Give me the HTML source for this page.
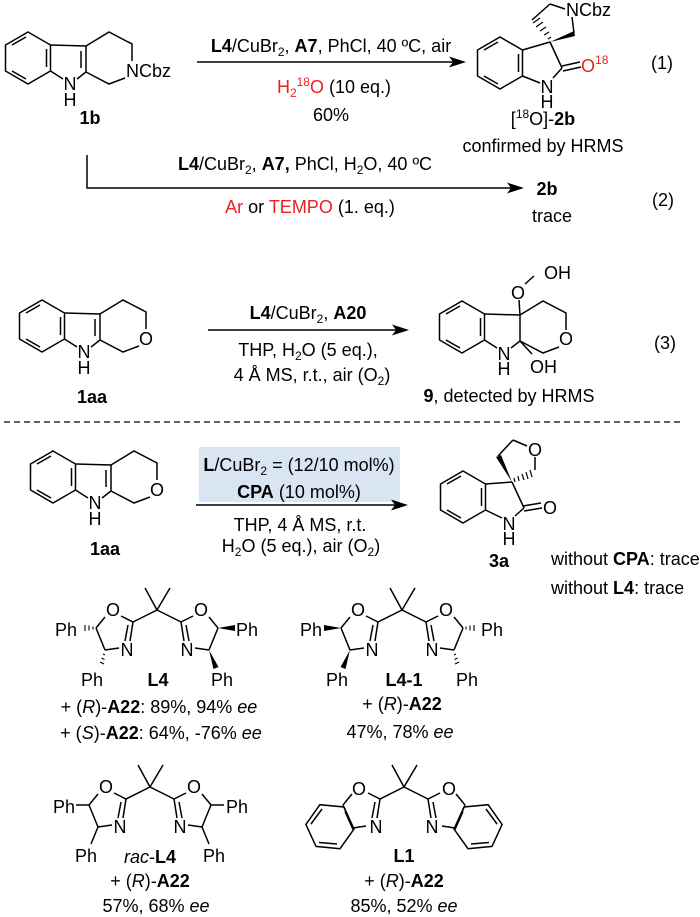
<!DOCTYPE html>
<html><head><meta charset="utf-8"><style>
html,body{margin:0;padding:0;background:#fff}
svg{display:block}
text{font-family:"Liberation Sans",Arial,sans-serif;font-size:18px;fill:#000}
.b{font-weight:bold}
.r{fill:#e8231f}
.m{text-anchor:middle}
.e{text-anchor:end}
</style></head><body>
<svg width="700" height="917" viewBox="0 0 700 917" xmlns="http://www.w3.org/2000/svg">
<defs>
<g id="benz">
<polygon points="0,-26 22.5,-13 22.5,13 0,26 -22.5,13 -22.5,-13" fill="none" stroke="#000" stroke-width="1.5"/>
<line x1="18.5" y1="-9" x2="18.5" y2="9" stroke="#000" stroke-width="1.5"/>
<line x1="-2" y1="21" x2="-16" y2="13" stroke="#000" stroke-width="1.5"/>
<line x1="-16" y1="-13" x2="-2" y2="-21" stroke="#000" stroke-width="1.5"/>
</g>
<g id="ind" fill="none" stroke="#000" stroke-width="1.5">
<use href="#benz"/>
<polyline points="22.5,-13 58,-12 58,14 49,21"/>
<line x1="22.5" y1="13" x2="35" y2="21"/>
<line x1="53" y1="-7" x2="53" y2="10"/>
<polyline points="58,-12 81,-26 104,-14 104,3"/>
<polyline points="97,20 81,26 58,14"/>
</g>
<g id="box" fill="none" stroke="#000" stroke-width="1.5">
<line x1="0" y1="0" x2="-12" y2="-22"/>
<line x1="0" y1="0" x2="13" y2="-22"/>
<line x1="0" y1="0" x2="-24" y2="12"/>
<line x1="-24" y1="12" x2="-36" y2="6"/>
<line x1="-52" y1="7" x2="-61" y2="18"/>
<line x1="-24" y1="12" x2="-27" y2="31"/>
<line x1="-29" y1="15" x2="-32" y2="31"/>
<line x1="0" y1="0" x2="24" y2="12"/>
<line x1="24" y1="12" x2="36" y2="6"/>
<line x1="52" y1="7" x2="61" y2="18"/>
<line x1="24" y1="12" x2="27" y2="31"/>
<line x1="29" y1="15" x2="32" y2="31"/>
</g>
<g id="oxr" fill="none" stroke="#000" stroke-width="1.5">
<line x1="-61" y1="18" x2="-52" y2="40"/>
<line x1="-52" y1="40" x2="-38" y2="38"/>
</g>
</defs>

<!-- Reaction 1 -->
<use href="#ind" transform="translate(28,58)"/>
<text x="70" y="90" class="m">N</text>
<text x="70" y="106" class="m">H</text>
<text x="126" y="77">NCbz</text>
<text x="90" y="124" class="m b">1b</text>

<line x1="197" y1="62" x2="455" y2="62" stroke="#000" stroke-width="1.5"/>
<polygon points="466,62 449,56.5 453,62 449,67.5"/>
<text x="331" y="52" class="m"><tspan class="b">L4</tspan>/CuBr<tspan font-size="12" dy="4">2</tspan><tspan dy="-4">, </tspan><tspan class="b">A7</tspan>, PhCl, 40 ºC, air</text>
<text x="334" y="93" class="m"><tspan class="r">H</tspan><tspan class="r" font-size="12" dy="4">2</tspan><tspan class="r" font-size="12" dy="-11">18</tspan><tspan class="r" dy="7">O</tspan> (10 eq.)</text>
<text x="331" y="121" class="m">60%</text>

<!-- product 2b -->
<g fill="none" stroke="#000" stroke-width="1.5">
<polygon points="500,37 522.5,50 522.5,76 500,89 477.5,76 477.5,50"/>
<line x1="518.5" y1="54" x2="518.5" y2="72"/>
<line x1="498" y1="84" x2="484" y2="76"/>
<line x1="484" y1="50" x2="498" y2="42"/>
<line x1="522.5" y1="50" x2="550" y2="42"/>
<line x1="550" y1="42" x2="562" y2="68"/>
<line x1="562" y1="68" x2="553" y2="78"/>
<line x1="522.5" y1="76" x2="540" y2="83"/>
<line x1="562" y1="66" x2="580" y2="62"/>
<line x1="563" y1="71" x2="581" y2="67"/>
<line x1="532" y1="20" x2="550" y2="4"/>
<line x1="550" y1="4" x2="565" y2="9"/>
<line x1="572" y1="17" x2="574" y2="33"/>
</g>
<g stroke="#000" stroke-width="1.2">
<line x1="548" y1="39" x2="551" y2="37"/><line x1="544" y1="35" x2="549" y2="32"/><line x1="540" y1="31" x2="546" y2="27"/><line x1="536" y1="27" x2="543" y2="22"/><line x1="533" y1="23" x2="540" y2="18"/>
</g>
<polygon points="550,42 574,31 575,36"/>
<text x="566" y="16">NCbz</text>
<text x="581" y="72" class="r">O<tspan font-size="12" dy="-8">18</tspan></text>
<text x="547" y="93" class="m">N</text>
<text x="547" y="108" class="m">H</text>
<text x="662" y="69" class="m">(1)</text>
<text x="543" y="125" class="m">[<tspan font-size="12" dy="-7">18</tspan><tspan dy="7">O]-</tspan><tspan class="b">2b</tspan></text>
<text x="543" y="152" class="m">confirmed by HRMS</text>

<!-- Reaction 2 -->
<polyline points="87,155 87,188 512,188" fill="none" stroke="#000" stroke-width="1.5"/>
<polygon points="524,188 507,182.5 511,188 507,193.5"/>
<text x="305" y="170" class="m"><tspan class="b">L4</tspan>/CuBr<tspan font-size="12" dy="4">2</tspan><tspan dy="-4">, </tspan><tspan class="b">A7,</tspan> PhCl, H<tspan font-size="12" dy="4">2</tspan><tspan dy="-4">O, 40 ºC</tspan></text>
<text x="310" y="213" class="m"><tspan class="r">Ar</tspan> or <tspan class="r">TEMPO</tspan> (1. eq.)</text>
<text x="547" y="195" class="m b">2b</text>
<text x="552" y="222" class="m">trace</text>
<text x="663" y="206" class="m">(2)</text>

<!-- Reaction 3 -->
<use href="#ind" transform="translate(42,326)"/>
<text x="84" y="358" class="m">N</text>
<text x="84" y="374" class="m">H</text>
<text x="146" y="345" class="m">O</text>
<text x="92" y="403" class="m b">1aa</text>
<line x1="208" y1="330" x2="397" y2="330" stroke="#000" stroke-width="1.5"/>
<polygon points="409,330 392,324.5 396,330 392,335.5"/>
<text x="308" y="319" class="m"><tspan class="b">L4</tspan>/CuBr<tspan font-size="12" dy="4">2</tspan><tspan dy="-4">, </tspan><tspan class="b">A20</tspan></text>
<text x="308" y="356" class="m">THP, H<tspan font-size="12" dy="4">2</tspan><tspan dy="-4">O (5 eq.),</tspan></text>
<text x="312" y="381" class="m">4 Å MS, r.t., air (O<tspan font-size="12" dy="4">2</tspan><tspan dy="-4">)</tspan></text>

<g transform="translate(462,327)" fill="none" stroke="#000" stroke-width="1.5">
<use href="#benz"/>
<polyline points="22.5,-13 58,-12 58,14 49,21"/>
<line x1="22.5" y1="13" x2="35" y2="21"/>
<polyline points="58,-12 81,-26 104,-14 104,3"/>
<polyline points="97,20 81,26 58,14"/>
<line x1="58" y1="-12" x2="57" y2="-27"/>
<line x1="63" y1="-43" x2="72" y2="-51"/>
<line x1="58" y1="14" x2="70" y2="27"/>
</g>
<text x="518" y="299" class="m">O</text>
<text x="544" y="279">OH</text>
<text x="504" y="360" class="m">N</text>
<text x="504" y="375" class="m">H</text>
<text x="530" y="373">OH</text>
<text x="566" y="345" class="m">O</text>
<text x="665" y="349" class="m">(3)</text>
<text x="509" y="402" class="m"><tspan class="b">9</tspan>, detected by HRMS</text>

<line x1="4" y1="422" x2="682" y2="422" stroke="#000" stroke-width="1.3" stroke-dasharray="6,4"/>

<!-- Reaction 4 -->
<use href="#ind" transform="translate(53,477)"/>
<text x="95" y="509" class="m">N</text>
<text x="95" y="525" class="m">H</text>
<text x="157" y="496" class="m">O</text>
<text x="105" y="555" class="m b">1aa</text>
<rect x="199" y="447" width="201" height="55" fill="#dae5f3"/>
<text x="299" y="471" class="m"><tspan class="b">L</tspan>/CuBr<tspan font-size="12" dy="4">2</tspan><tspan dy="-4"> = (12/10 mol%)</tspan></text>
<text x="299" y="498" class="m"><tspan class="b">CPA</tspan> (10 mol%)</text>
<line x1="196" y1="505" x2="396" y2="505" stroke="#000" stroke-width="1.5"/>
<polygon points="408,505 391,499.5 395,505 391,510.5"/>
<text x="300" y="531" class="m">THP, 4 Å MS,  r.t.</text>
<text x="301" y="552" class="m">H<tspan font-size="12" dy="4">2</tspan><tspan dy="-4">O (5 eq.), air (O</tspan><tspan font-size="12" dy="4">2</tspan><tspan dy="-4">)</tspan></text>

<g fill="none" stroke="#000" stroke-width="1.5">
<use href="#benz" transform="translate(463,497)"/>
<line x1="485.5" y1="484" x2="512" y2="482"/>
<line x1="512" y1="482" x2="524" y2="508"/>
<line x1="524" y1="508" x2="515" y2="516"/>
<line x1="485.5" y1="510" x2="502" y2="518"/>
<line x1="523" y1="506" x2="541" y2="503"/>
<line x1="524" y1="511" x2="542" y2="508"/>
<line x1="498" y1="456" x2="513" y2="440"/>
<line x1="513" y1="440" x2="527" y2="446"/>
<line x1="535" y1="457" x2="535" y2="470"/>
</g>
<polygon points="512,482 496,457 501,455"/>
<g stroke="#000" stroke-width="1.2">
<line x1="514" y1="478" x2="515" y2="482"/><line x1="518" y1="476" x2="519" y2="481"/><line x1="522" y1="474" x2="524" y2="480"/><line x1="526" y1="472" x2="528" y2="479"/><line x1="530" y1="470" x2="532" y2="477"/>
</g>
<text x="535" y="456" class="m">O</text>
<text x="550" y="514" class="m">O</text>
<text x="509" y="530" class="m">N</text>
<text x="509" y="545" class="m">H</text>
<text x="499" y="567" class="m b">3a</text>
<text x="551" y="565">without <tspan class="b">CPA</tspan>: trace</text>
<text x="551" y="594">without <tspan class="b">L4</tspan>: trace</text>

<!-- L4 -->
<g transform="translate(157,610)">
<use href="#box"/><use href="#oxr"/><use href="#oxr" transform="scale(-1,1)"/>
<g stroke="#000" stroke-width="1.1"><line x1="-64" y1="16.5" x2="-64" y2="19.5"/><line x1="-68" y1="15.5" x2="-68" y2="20.5"/><line x1="-72" y1="15" x2="-72" y2="21"/>
<line x1="-54" y1="44" x2="-52" y2="45"/><line x1="-55.5" y1="48" x2="-52.5" y2="49.5"/><line x1="-57" y1="52" x2="-53" y2="54"/></g>
<polygon points="61,18 78,15 78,21"/><polygon points="52,40 61.5,57 56.5,59"/>
</g>
<text x="77" y="636" class="e">Ph</text>
<text x="92" y="686" class="m">Ph</text>
<text x="113" y="616" class="m">O</text>
<text x="201" y="616" class="m">O</text>
<text x="127" y="656" class="m">N</text>
<text x="187" y="656" class="m">N</text>
<text x="236" y="636">Ph</text>
<text x="222" y="686" class="m">Ph</text>
<text x="158" y="686" class="m b">L4</text>
<text x="159" y="713" class="m">+ (<tspan font-style="italic">R</tspan>)-<tspan class="b">A22</tspan>: 89%, 94% <tspan font-style="italic">ee</tspan></text>
<text x="161" y="739" class="m">+ (<tspan font-style="italic">S</tspan>)-<tspan class="b">A22</tspan>: 64%, -76% <tspan font-style="italic">ee</tspan></text>

<!-- L4-1 -->
<g transform="translate(402,610)">
<use href="#box"/><use href="#oxr"/><use href="#oxr" transform="scale(-1,1)"/>
<polygon points="-61,18 -78,15 -78,21"/><polygon points="-52,40 -61.5,57 -56.5,59"/>
<g stroke="#000" stroke-width="1.1"><line x1="64" y1="16.5" x2="64" y2="19.5"/><line x1="68" y1="15.5" x2="68" y2="20.5"/><line x1="72" y1="15" x2="72" y2="21"/>
<line x1="54" y1="44" x2="52" y2="45"/><line x1="55.5" y1="48" x2="52.5" y2="49.5"/><line x1="57" y1="52" x2="53" y2="54"/></g>
</g>
<text x="322" y="636" class="e">Ph</text>
<text x="337" y="686" class="m">Ph</text>
<text x="358" y="616" class="m">O</text>
<text x="446" y="616" class="m">O</text>
<text x="372" y="656" class="m">N</text>
<text x="432" y="656" class="m">N</text>
<text x="481" y="636">Ph</text>
<text x="467" y="686" class="m">Ph</text>
<text x="404" y="686" class="m b">L4-1</text>
<text x="402" y="710" class="m">+ (<tspan font-style="italic">R</tspan>)-<tspan class="b">A22</tspan></text>
<text x="400" y="738" class="m">47%, 78% <tspan font-style="italic">ee</tspan></text>

<!-- rac-L4 -->
<g transform="translate(150,787)">
<use href="#box"/><use href="#oxr"/><use href="#oxr" transform="scale(-1,1)"/>
<g stroke="#000" stroke-width="1.5"><line x1="-61" y1="18" x2="-74" y2="18"/><line x1="-52" y1="40" x2="-59" y2="57"/><line x1="61" y1="18" x2="74" y2="18"/><line x1="52" y1="40" x2="59" y2="57"/></g>
</g>
<text x="75" y="813" class="e">Ph</text>
<text x="86" y="862" class="m">Ph</text>
<text x="106" y="793" class="m">O</text>
<text x="194" y="793" class="m">O</text>
<text x="120" y="833" class="m">N</text>
<text x="180" y="833" class="m">N</text>
<text x="226" y="813">Ph</text>
<text x="214" y="862" class="m">Ph</text>
<text x="150" y="863" class="m"><tspan font-style="italic">rac</tspan>-<tspan class="b">L4</tspan></text>
<text x="150" y="887" class="m">+ (<tspan font-style="italic">R</tspan>)-<tspan class="b">A22</tspan></text>
<text x="156" y="912" class="m">57%, 68% <tspan font-style="italic">ee</tspan></text>

<!-- L1 -->
<g transform="translate(404,787)">
<use href="#box"/>
<g id="bzx" fill="none" stroke="#000" stroke-width="1.5">
<line x1="-61" y1="18" x2="-51" y2="41"/>
<line x1="-51" y1="41" x2="-38" y2="39"/>
<polygon points="-60,20 -50,42 -64,61.7 -88,59.4 -98.1,37.4 -84.1,17.7"/>
<line x1="-59" y1="24.5" x2="-51" y2="42.5"/>
<line x1="-67" y1="57" x2="-85" y2="55.5"/>
<line x1="-93" y1="37" x2="-82" y2="22"/>
</g>
<use href="#bzx" transform="scale(-1,1)"/>
</g>
<text x="359" y="795" class="m">O</text>
<text x="449" y="795" class="m">O</text>
<text x="376" y="833" class="m">N</text>
<text x="432" y="833" class="m">N</text>
<text x="404" y="862" class="m b">L1</text>
<text x="404" y="887" class="m">+ (<tspan font-style="italic">R</tspan>)-<tspan class="b">A22</tspan></text>
<text x="404" y="912" class="m">85%, 52% <tspan font-style="italic">ee</tspan></text>
</svg>
</body></html>
